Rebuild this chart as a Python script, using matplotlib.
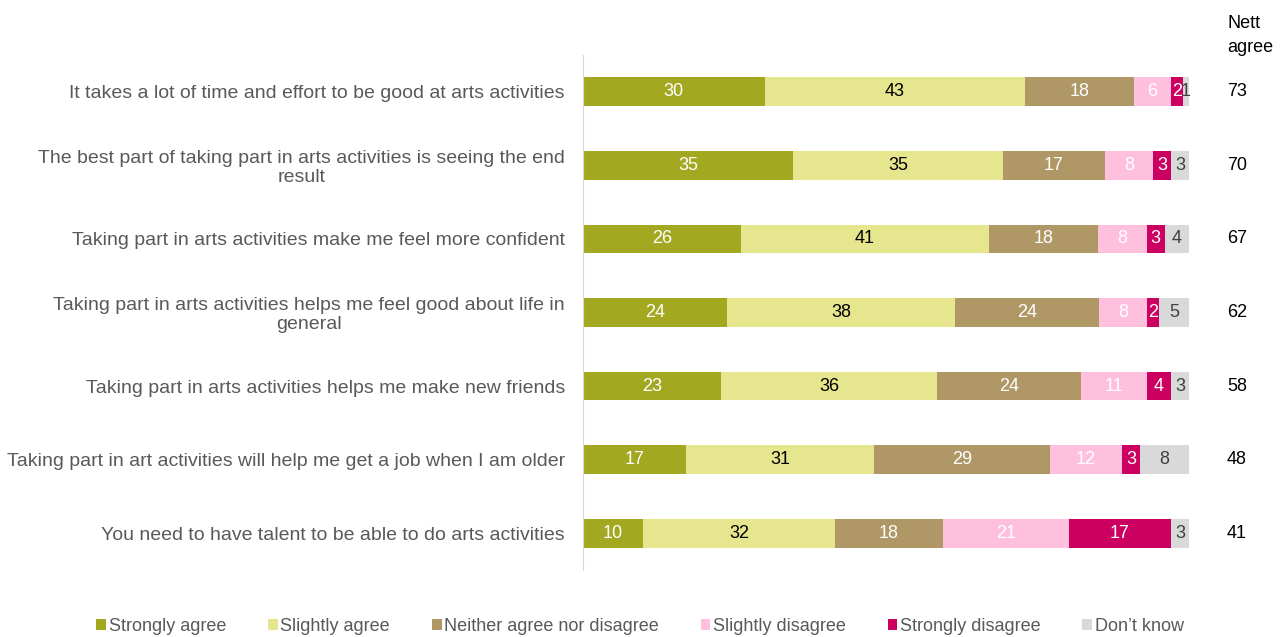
import matplotlib.pyplot as plt
from matplotlib.patches import Patch

plt.rcParams['font.family'] = ['Liberation Sans', 'DejaVu Sans']

# statements (top to bottom)
statements = [
    "It takes a lot of time and effort to be good at arts activities",
    "The best part of taking part in arts activities is seeing the end\nresult",
    "Taking part in arts activities make me feel more confident",
    "Taking part in arts activities helps me feel good about life in\ngeneral",
    "Taking part in arts activities helps me make new friends",
    "Taking part in art activities will help me get a job when I am older",
    "You need to have talent to be able to do arts activities",
]

responses = ["Strongly agree", "Slightly agree", "Neither agree nor disagree",
             "Slightly disagree", "Strongly disagree", "Don\u2019t know"]

strongly_agree = [30, 35, 26, 24, 23, 17, 10]
slightly_agree = [43, 35, 41, 38, 36, 31, 32]
neither = [18, 17, 18, 24, 24, 29, 18]
slightly_disagree = [6, 8, 8, 8, 11, 12, 21]
strongly_disagree = [2, 3, 3, 2, 4, 3, 17]
dont_know = [1, 3, 4, 5, 3, 8, 3]
nett_agree = [73, 70, 67, 62, 58, 48, 41]

colors = ["#A2A920", "#E6E68F", "#B09866", "#FFC0DD", "#CC0060", "#D9D9D9"]
label_colors = ["white", "black", "white", "white", "white", "#404040"]

series = [strongly_agree, slightly_agree, neither, slightly_disagree,
          strongly_disagree, dont_know]

fig = plt.figure(figsize=(12.88, 6.37), dpi=100)
ax = fig.add_axes([0.4526, 0.1052, 0.4705, 0.8085])

n = len(statements)
totals = [sum(s[i] for s in series) for i in range(n)]
left = [0.0] * n
for vals, col, tcol in zip(series, colors, label_colors):
    widths = [v * 100.0 / t for v, t in zip(vals, totals)]
    ax.barh(range(n), widths, left=left, height=0.39, color=col, edgecolor='none')
    for i, (v, w) in enumerate(zip(vals, widths)):
        ax.text(left[i] + w / 2, i, str(v), ha='center', va='center',
                fontsize=13, color=tcol)
    left = [l + w for l, w in zip(left, widths)]

ax.set_xlim(0, 100)
ax.set_ylim(n - 0.5, -0.5)
ax.set_yticks(range(n))
ax.set_yticklabels(statements, fontsize=14, color='#595959',
                   ha='right', multialignment='center', linespacing=1.15)
ax.tick_params(axis='y', length=0, pad=13)
ax.set_xticks([])
for side in ['top', 'right', 'bottom']:
    ax.spines[side].set_visible(False)
ax.spines['left'].set_color('#D9D9D9')

# nett agree column
for i, v in enumerate(nett_agree):
    ax.text(107.9, i, str(v), ha='center', va='center', fontsize=13, color='black')
fig.text(0.953, 0.944, "Nett\nagree", ha='left', va='center', fontsize=13,
         color='black', linespacing=1.5)

handles = [Patch(facecolor=c, edgecolor='none') for c in colors]
fig.legend(handles, responses, loc='center', bbox_to_anchor=(0.497, 0.016),
           ncol=6, frameon=False, fontsize=13, handlelength=0.55,
           handleheight=0.55, handletextpad=0.15, columnspacing=2.3,
           labelcolor='#595959')

fig.savefig('out.png', dpi=100)
